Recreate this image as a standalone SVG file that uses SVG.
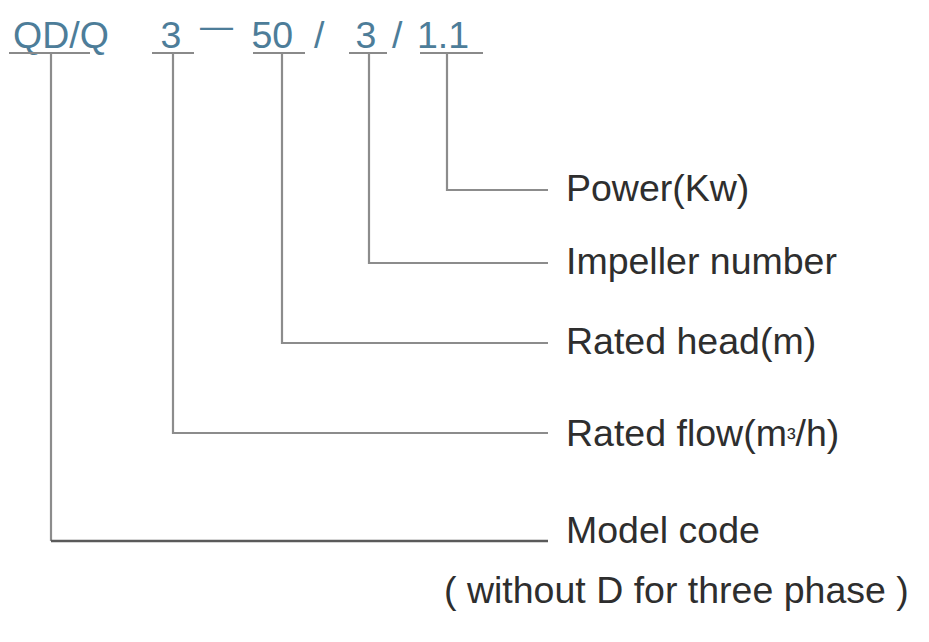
<svg xmlns="http://www.w3.org/2000/svg" width="929" height="642" viewBox="0 0 929 642">
<style>
.code{font-family:"Liberation Sans",Arial,sans-serif;font-size:37.5px;fill:#4d7d99}
.lbl{font-family:"Liberation Sans",Arial,sans-serif;font-size:37.5px;fill:#2e2e2e}
.ul{stroke:#8a8a8a;stroke-width:2.2;fill:none}
.con{stroke:#8c8c8c;stroke-width:2.2;fill:none}
.dark{stroke:#5a5a5a;stroke-width:2.6}
</style>
<rect width="929" height="642" fill="#ffffff"/>
<g id="code-model">
<text class="code" x="13" y="47.5">QD/Q</text>
<line class="ul" x1="9" y1="53" x2="90" y2="53"/>
</g>
<g id="code-flow">
<text class="code" x="160.5" y="47.5">3</text>
<line class="ul" x1="152" y1="53" x2="194" y2="53"/>
</g>
<g id="sep-dash"><text class="code" x="200" y="36.5" style="font-size:33px">—</text></g>
<g id="code-head">
<text class="code" x="251.5" y="47.5">50</text>
<line class="ul" x1="253" y1="53" x2="305" y2="53"/>
</g>
<g id="sep-slash1"><text class="code" x="314" y="47.5">/</text></g>
<g id="code-impeller">
<text class="code" x="355.5" y="47.5">3</text>
<line class="ul" x1="349" y1="53" x2="387" y2="53"/>
</g>
<g id="sep-slash2"><text class="code" x="392" y="47.5">/</text></g>
<g id="code-power">
<text class="code" x="417" y="47.5">1.1</text>
<line class="ul" x1="420" y1="53" x2="483" y2="53"/>
</g>
<g id="connectors">
<polyline class="con" points="447,53 447,190 548,190"/>
<polyline class="con" points="369,53 369,263 548,263"/>
<polyline class="con" points="282,53 282,343 548,343"/>
<polyline class="con" points="173,53 173,433 548,433"/>
<polyline class="con" points="51,53 51,541"/>
<line class="con dark" x1="51" y1="541" x2="548" y2="541"/>
</g>
<g id="label-power"><text class="lbl" x="566" y="201">Power(Kw)</text></g>
<g id="label-impeller"><text class="lbl" x="566" y="274">Impeller number</text></g>
<g id="label-head"><text class="lbl" x="566" y="354">Rated head(m)</text></g>
<g id="label-flow"><text class="lbl" x="566" y="446">Rated flow(m<tspan style="font-size:26px">³</tspan>/h)</text></g>
<g id="label-model">
<text class="lbl" x="566" y="543">Model code</text>
<text class="lbl" x="444" y="603">( without D for three phase )</text>
</g>
</svg>
